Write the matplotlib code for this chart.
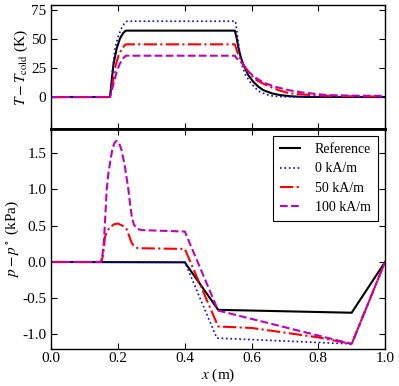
import numpy as np
import matplotlib
matplotlib.use("Agg")
import matplotlib.pyplot as plt

# temperature panel, T - T_cold (K)
t_ref_x = [0, 0.176, 0.186, 0.196, 0.206, 0.215, 0.223, 0.55, 0.556, 0.561, 0.568, 0.576,
           0.59, 0.605, 0.62, 0.635, 0.66, 0.685, 0.72, 0.76, 1.0]
t_ref_y = [0, 0, 27.6, 42, 50.6, 55, 57.2, 57.2, 50, 42, 34, 27.6,
           19, 13.2, 9, 6, 3.2, 1.7, 0.6, 0.1, 0]
t_0_x = [0, 0.176, 0.184, 0.191, 0.2, 0.21, 0.218, 0.226, 0.552, 0.558, 0.564, 0.571,
         0.582, 0.595, 0.61, 0.625, 0.645, 0.665, 0.7, 1.0]
t_0_y = [0, 0, 25, 42, 52, 59, 63, 65.3, 65.3, 52, 40, 27.6,
         19, 13.2, 8, 4.6, 2, 0.8, 0.2, 0]
t_50_x = [0, 0.176, 0.185, 0.193, 0.202, 0.212, 0.223, 0.55, 0.556, 0.564, 0.576, 0.595,
          0.615, 0.635, 0.655, 0.685, 0.715, 0.775, 0.85, 1.0]
t_50_y = [0, 0, 14, 27.6, 36, 42, 45.4, 45.4, 40, 34, 27.6, 20,
          14.6, 11.5, 8.9, 5.5, 3.2, 1.7, 0.8, 0.3]
t_100_x = [0, 0.176, 0.186, 0.196, 0.205, 0.214, 0.223, 0.55, 0.556, 0.568, 0.59, 0.615,
           0.64, 0.67, 0.71, 0.75, 0.825, 0.9, 1.0]
t_100_y = [0, 0, 11, 21.8, 28.5, 33, 35.6, 35.6, 33, 30.5, 22, 16,
           12, 8.9, 6, 4, 1.7, 1.2, 1.0]

# pressure panel, p - p0 (kPa)
p_ref_x = [0, 0.4, 0.5, 0.9, 1.0]
p_ref_y = [0, -0.005, -0.66, -0.70, 0.0]
p_0_x = [0, 0.4, 0.496, 0.9, 1.0]
p_0_y = [0, 0, -1.05, -1.13, 0.0]
p_50_x = [0, 0.15, 0.156, 0.161, 0.168, 0.176, 0.188, 0.2, 0.213, 0.226, 0.234, 0.241,
          0.25, 0.26, 0.4, 0.5, 0.6, 0.8, 0.9, 1.0]
p_50_y = [0, 0, 0.12, 0.35, 0.43, 0.48, 0.52, 0.53, 0.5, 0.45, 0.35, 0.26,
          0.21, 0.19, 0.18, -0.89, -0.91, -1.04, -1.13, 0.0]
p_100_x = [0, 0.148, 0.153, 0.158, 0.162, 0.166, 0.171, 0.176, 0.183, 0.19, 0.196, 0.203,
           0.21, 0.216, 0.221, 0.226, 0.231, 0.236, 0.241, 0.247, 0.256, 0.27, 0.4, 0.5,
           0.9, 1.0]
p_100_y = [0, 0, 0.08, 0.31, 0.65, 1.0, 1.22, 1.37, 1.56, 1.65, 1.67, 1.64,
           1.55, 1.42, 1.3, 1.15, 1.0, 0.8, 0.63, 0.52, 0.46, 0.44, 0.42, -0.67,
           -1.13, 0.0]

labels = ["Reference", "0 kA/m", "50 kA/m", "100 kA/m"]

plt.rcParams["font.family"] = "serif"
plt.rcParams["font.serif"] = ["Liberation Serif", "DejaVu Serif"]
plt.rcParams["mathtext.fontset"] = "stix"
plt.rcParams["font.size"] = 11
plt.rcParams["xtick.direction"] = "in"
plt.rcParams["ytick.direction"] = "in"
plt.rcParams["xtick.top"] = True
plt.rcParams["ytick.right"] = True
plt.rcParams["xtick.major.size"] = 4
plt.rcParams["ytick.major.size"] = 4
plt.rcParams["xtick.major.pad"] = 2.5
plt.rcParams["axes.linewidth"] = 1.0

fig = plt.figure(figsize=(3.99, 3.86), dpi=100)
ax1 = fig.add_axes([0.1286, 0.665, 0.8364, 0.3212])
ax2 = fig.add_axes([0.1286, 0.0959, 0.8364, 0.5691])

styles = [dict(color="k", ls="-", lw=1.5),
          dict(color="b", ls=":", lw=1.2),
          dict(color="r", ls="-.", lw=1.5),
          dict(color="m", ls="--", lw=1.5)]

for (x, y), st in zip([(t_ref_x, t_ref_y), (t_0_x, t_0_y), (t_50_x, t_50_y), (t_100_x, t_100_y)], styles):
    ax1.plot(x, y, **st)
for (x, y), st, lab in zip([(p_ref_x, p_ref_y), (p_0_x, p_0_y), (p_50_x, p_50_y), (p_100_x, p_100_y)], styles, labels):
    ax2.plot(x, y, label=lab, **st)

ax1.set_xlim(0, 1)
ax1.set_ylim(-27.8, 79)
ax1.set_yticks([0, 25, 50, 75])
ax1.set_xticks(np.arange(0, 1.01, 0.2))
ax1.tick_params(labelbottom=False)
ax1.spines["bottom"].set_linewidth(2.0)
ax1.set_ylabel(r"$T - T_\mathrm{cold}$ (K)", labelpad=1)

ax2.set_xlim(0, 1)
ax2.set_ylim(-1.2, 1.83)
ax2.set_yticks([-1.0, -0.5, 0.0, 0.5, 1.0, 1.5])
ax2.set_xticks(np.arange(0, 1.01, 0.2))
ax2.spines["top"].set_linewidth(2.0)
ax2.set_ylabel(r"$p - p^\circ$ (kPa)", labelpad=1)
ax2.set_xlabel(r"$x$ (m)", labelpad=1)
ax2.yaxis.set_major_formatter(matplotlib.ticker.FormatStrFormatter("%.1f"))
ax2.xaxis.set_major_formatter(matplotlib.ticker.FormatStrFormatter("%.1f"))

leg = ax2.legend(loc="upper right", fancybox=False, handlelength=1.4,
                 handletextpad=1.1, labelspacing=0.45, borderpad=0.5,
                 edgecolor="k", framealpha=1, fontsize=10)
leg.get_frame().set_linewidth(0.8)

plt.savefig("out.png", dpi=100)
